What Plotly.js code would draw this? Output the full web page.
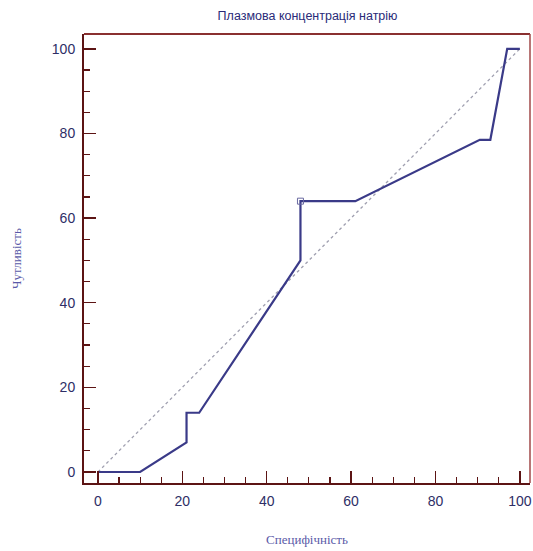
<!DOCTYPE html>
<html>
<head>
<meta charset="utf-8">
<script src="https://cdn.plot.ly/plotly-3.0.1.min.js"></script>
<style>html,body{margin:0;padding:0;background:#fff;}#chart{width:533px;height:551px;}</style>
</head>
<body>
<div id="chart"></div>
<script>
// ROC curve data (100 - specificity on x, sensitivity on y)
const specificity = [0, 10, 21, 21, 24, 48, 48, 61, 90.5, 93, 97, 100];
const sensitivity = [0, 0, 7, 14, 14, 50, 64, 64, 78.5, 78.5, 100, 100];
const refX = [0, 100];
const refY = [0, 100];
const optimalX = [48];
const optimalY = [64];
const xTickVals = [0, 20, 40, 60, 80, 100];
const yTickVals = [0, 20, 40, 60, 80, 100];
const titleText = "Плазмова концентрація натрію";
const xTitle = "Специфічність";
const yTitle = "Чутливість";

const axisCol = "#5c1414";
const tickFont = {family: "Liberation Sans, Arial, sans-serif", size: 14, color: "#2e2e66"};

const traces = [
  {x: refX, y: refY, mode: "lines", line: {color: "#a0a0b0", width: 1.3, dash: "dot"}, hoverinfo: "skip", showlegend: false},
  {x: specificity, y: sensitivity, mode: "lines", line: {color: "#3a3a88", width: 2.2, shape: "linear"}, showlegend: false},
  {x: optimalX, y: optimalY, mode: "markers", marker: {symbol: "square-open", size: 6, color: "#6a6aa0", line: {width: 1}}, showlegend: false}
];

const layout = {
  width: 533, height: 551,
  margin: {l: 84, r: 3, t: 34, b: 68},
  paper_bgcolor: "#ffffff", plot_bgcolor: "#ffffff",
  title: {text: titleText, x: 0.577, xanchor: "center", y: 0.972, yanchor: "middle",
          font: {family: "Liberation Sans, Arial, sans-serif", size: 12.5, color: "#2a2a78"}},
  xaxis: {
    range: [-3.3, 102.4], tickvals: xTickVals, ticks: "inside", ticklen: 12, tickwidth: 1.5, tickcolor: axisCol,
    minor: {dtick: 5, ticks: "inside", ticklen: 6, tickwidth: 1.2, tickcolor: axisCol},
    showline: true, linecolor: axisCol, linewidth: 2, showgrid: false, zeroline: false,
    tickfont: tickFont, ticklabelstandoff: 4,
    title: {text: xTitle, standoff: 27, font: {family: "Liberation Serif, DejaVu Serif, serif", size: 13, color: "#5a5aa8"}}
  },
  yaxis: {
    range: [-2.6, 103.5], tickvals: yTickVals, ticks: "inside", ticklen: 12, tickwidth: 1.5, tickcolor: axisCol,
    minor: {dtick: 5, ticks: "inside", ticklen: 6, tickwidth: 1.2, tickcolor: axisCol},
    showline: true, linecolor: axisCol, linewidth: 2, showgrid: false, zeroline: false,
    tickfont: tickFont, ticklabelstandoff: 4,
    title: {text: yTitle, standoff: 27, font: {family: "Liberation Serif, DejaVu Serif, serif", size: 13, color: "#5a5aa8"}}
  },
  shapes: [
    {type: "line", xref: "paper", yref: "paper", x0: 0, x1: 1, y0: 1, y1: 1, line: {color: "#8a3030", width: 2}},
    {type: "line", xref: "paper", yref: "paper", x0: 1, x1: 1, y0: 0, y1: 1, line: {color: "#a04848", width: 1.5}}
  ]
};

Plotly.newPlot("chart", traces, layout, {displayModeBar: false, staticPlot: true});
</script>
</body>
</html>
